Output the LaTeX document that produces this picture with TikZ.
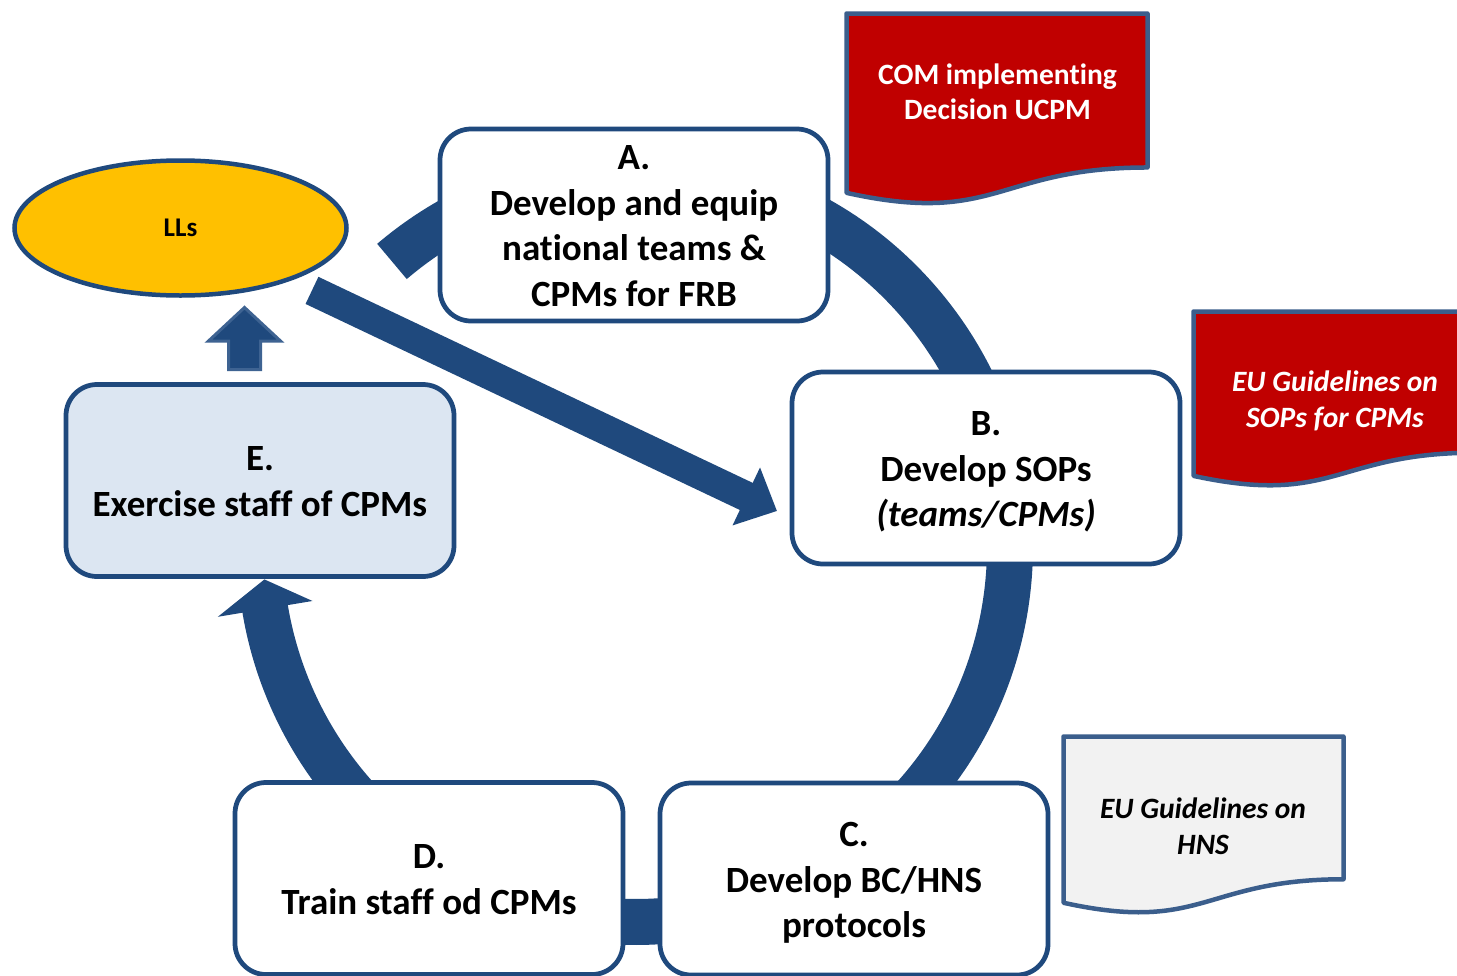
\documentclass[tikz,border=0pt]{standalone}
\usepackage{fontspec}
\setmainfont{Carlito}[Ligatures={NoCommon,NoContextual}]
\usetikzlibrary{arrows.meta,shapes.geometric}
\definecolor{ringblue}{HTML}{1F497D}
\definecolor{boxblue}{HTML}{1F497D}
\definecolor{docborder}{RGB}{59,94,140}
\definecolor{docred}{HTML}{C00000}
\definecolor{docgray}{HTML}{F2F2F2}
\definecolor{llfill}{HTML}{FFC000}
\definecolor{efill}{HTML}{DCE6F2}
\definecolor{upborder}{RGB}{62,99,146}
\newcommand{\mydoc}[5]{\draw[docshape,#1] (#2,#3) -- ({#2+#4},#3) -- ({#2+#4},{#3-0.802*#5}) .. controls ({#2+0.5*#4},{#3-0.802*#5}) and ({#2+0.5*#4},{#3-1.1075*#5}) .. (#2,{#3-0.934*#5}) -- cycle;}
\newcommand{\stxt}[1]{\raisebox{-4pt}[\height][\depth]{\begin{tabular}{@{}c@{}}#1\end{tabular}}}
\begin{document}
\begin{tikzpicture}[x=1pt,y=1pt,
 stepbox/.style={draw=boxblue, line width=4.75pt, fill=white, rounded corners=31pt,
   minimum width=388pt, minimum height=192pt, inner sep=0pt,
   font=\fontsize{37}{45.5}\selectfont\bfseries},
 llnode/.style={ellipse, draw=boxblue, line width=4.5pt, fill=llfill,
   minimum width=332pt, minimum height=135pt, inner sep=0pt,
   font=\fontsize{27}{32}\selectfont\bfseries},
 docshape/.style={draw=docborder, line width=4.5pt, line join=round},
 doctext/.style={align=center, inner sep=0pt, font=\fontsize{29.5}{35.5}\selectfont\bfseries},
 doctextit/.style={align=center, inner sep=0pt, font=\fontsize{29.5}{35.5}\selectfont\bfseries\itshape},
 ring/.style={draw=ringblue, line width=46pt},
 ringhead/.style={fill=ringblue},
 bigarrow/.style={draw=ringblue, line width=30pt, -{Triangle[length=34pt,width=62pt]}},
 blockarrow/.style={fill=ringblue, draw=upborder, line width=3pt, line join=miter}
]
\useasboundingbox (0,0) rectangle (1457,-975);
\clip (0,0) rectangle (1457,-975);
\fill[white] (0,0) rectangle (1457,-975);

% cycle ring
\coordinate (ringc) at (635,-547);
\draw[ring] (ringc) ++(130.4:375) arc[start angle=130.4, end angle=-171, radius=375];
\fill[ringhead, shift={(ringc)}] (-170.5:423) -- (-175:372) -- (-170.5:327) -- cycle;

% nodes
\node[llnode] (LL) at (180.5,-228) {LLs};
\node[stepbox] (A) at (634,-225) {\stxt{A.\\Develop and equip\\national teams \&\\CPMs for FRB}};
\node[stepbox] (B) at (986,-468) {\stxt{B.\\Develop SOPs\\\textit{(teams/CPMs)}}};
\node[stepbox] (C) at (854,-879) {\stxt{C.\\Develop BC/HNS\\protocols}};
\node[stepbox] (D) at (429,-878.5) {\stxt{D.\\Train staff od CPMs}};
\node[stepbox, fill=efill] (E) at (260,-480.5) {\stxt{E.\\Exercise staff of CPMs}};

% arrows
\coordinate (tipB) at (777,-511);
\draw[bigarrow, shorten <=23pt] (LL) -- (tipB);
\draw[blockarrow] (228.5,-369.5) -- (228.5,-341) -- (208.5,-341) -- (244.5,-307.5)
  -- (280.5,-341) -- (260.5,-341) -- (260.5,-369.5) -- cycle;

% documents
\mydoc{fill=docred}{846.5}{-13.5}{301}{192}
\mydoc{fill=docred}{1193.5}{-311.5}{283}{176}
\mydoc{fill=docgray}{1063.5}{-736.5}{280}{178}
\node[doctext, text=white] (com) at (997.5,-92) {COM implementing\\Decision UCPM};
\node[doctextit, text=white] (sops) at (1335,-401) {EU Guidelines on\\SOPs for CPMs};
\node[doctextit, text=black] (hns) at (1203,-826) {EU Guidelines on\\HNS};
\end{tikzpicture}
\end{document}
